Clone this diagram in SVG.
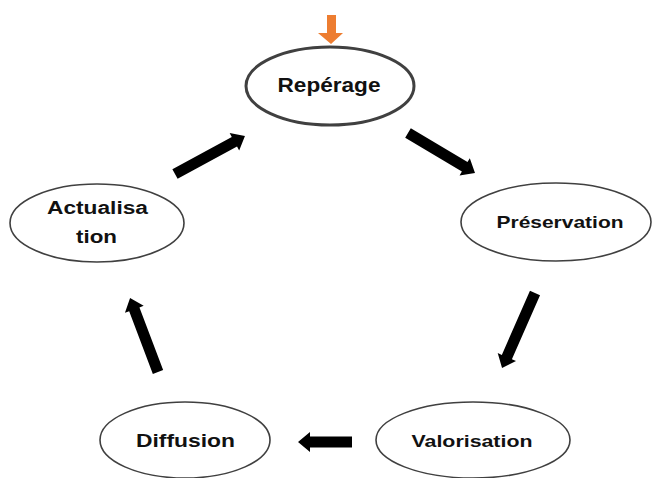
<svg xmlns="http://www.w3.org/2000/svg" width="654" height="478" viewBox="0 0 654 478">
<style>
.node ellipse{fill:#fff;stroke:#404040;stroke-width:1.6}
.node text{font-family:"Liberation Sans",Arial,sans-serif;font-weight:bold;fill:#111;text-anchor:middle}
.arr{fill:#000}
</style>
<rect width="654" height="478" fill="#fff"/>
<g id="connectors">
<path d="M327,15 H336 V33 H343 L331,44 L318,33 H327 Z" fill="#ED7D31"/>
<path class="arr" transform="translate(175,174) rotate(-28.5)" d="M0,-5.5 H67.6 V-10 L79.6,0 L67.6,10 V5.5 H0 Z"/>
<path class="arr" transform="translate(408,133) rotate(30.8)" d="M0,-5.5 H66 V-10 L78,0 L66,10 V5.5 H0 Z"/>
<path class="arr" transform="translate(535,293) rotate(113.7)" d="M0,-5.5 H70 V-10 L82,0 L70,10 V5.5 H0 Z"/>
<path class="arr" transform="translate(352,442) rotate(180)" d="M0,-5.5 H42 V-10 L54,0 L42,10 V5.5 H0 Z"/>
<path class="arr" transform="translate(158,372) rotate(-110.7)" d="M0,-5.5 H67 V-10 L79,0 L67,10 V5.5 H0 Z"/>
</g>
<g id="reperage" class="node">
<ellipse cx="330" cy="86" rx="84" ry="39" style="stroke-width:3"/>
<text x="329" y="92" font-size="20" textLength="103" lengthAdjust="spacingAndGlyphs">Repérage</text>
</g>
<g id="preservation" class="node">
<ellipse cx="556" cy="222" rx="95" ry="39"/>
<text x="560" y="228" font-size="17" textLength="127" lengthAdjust="spacingAndGlyphs">Préservation</text>
</g>
<g id="valorisation" class="node">
<ellipse cx="473" cy="440" rx="97" ry="38"/>
<text x="472" y="447" font-size="17" textLength="121" lengthAdjust="spacingAndGlyphs">Valorisation</text>
</g>
<g id="diffusion" class="node">
<ellipse cx="185" cy="440" rx="85" ry="38"/>
<text x="185.5" y="447" font-size="19" textLength="99" lengthAdjust="spacingAndGlyphs">Diffusion</text>
</g>
<g id="actualisation" class="node">
<ellipse cx="97" cy="223" rx="87" ry="39"/>
<text x="97.5" y="214" font-size="18" textLength="101" lengthAdjust="spacingAndGlyphs">Actualisa</text>
<text x="96.5" y="243" font-size="18" textLength="41" lengthAdjust="spacingAndGlyphs">tion</text>
</g>
</svg>
